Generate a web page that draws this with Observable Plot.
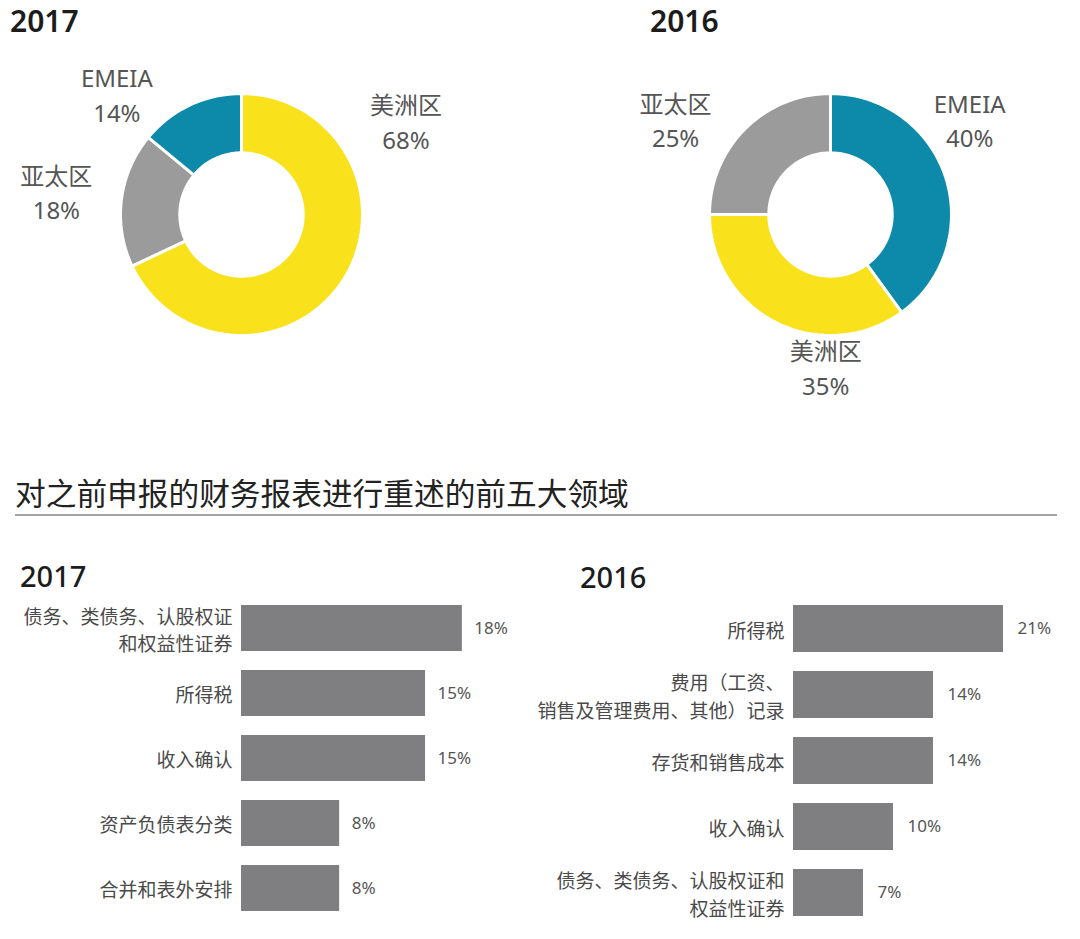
<!DOCTYPE html>
<html><head><meta charset="utf-8">
<script src="https://cdn.jsdelivr.net/npm/d3@7"></script>
<script src="https://cdn.jsdelivr.net/npm/@observablehq/plot@0.6"></script>
<style>
html,body{margin:0;padding:0;background:#fff;}
#page{position:relative;width:1080px;height:939px;overflow:hidden;font-family:"Noto Sans","Noto Sans CJK SC",sans-serif;}
.layer{position:absolute;left:0;top:0;pointer-events:none;}
.t{position:absolute;white-space:nowrap;color:#1c1c1c;line-height:1;}
</style></head><body>
<div id="page">
  <div class="t" style="left:10px;top:6px;font-size:30px;font-weight:600;">2017</div>
  <div class="t" style="left:650px;top:6px;font-size:30px;font-weight:600;">2016</div>
  <div class="t" style="left:15px;top:477px;font-size:30.7px;font-family:'Noto Sans CJK SC',sans-serif;color:#222;">对之前申报的财务报表进行重述的前五大领域</div>
  <div style="position:absolute;left:15px;top:514px;width:1042px;height:1.5px;background:#a3a3a3;"></div>
  <div class="t" style="left:20px;top:561px;font-size:29px;font-weight:500;">2017</div>
  <div class="t" style="left:580px;top:562px;font-size:29px;font-weight:500;">2016</div>
</div>
<script>
// ---- data ----
const donutRegions2017 = ["美洲区", "亚太区", "EMEIA"];
const donutShares2017 = [68, 18, 14];
const donutRegions2016 = ["EMEIA", "美洲区", "亚太区"];
const donutShares2016 = [40, 35, 25];

const barCats2017 = ["债务、类债务、认股权证\n和权益性证券", "所得税", "收入确认", "资产负债表分类", "合并和表外安排"];
const barVals2017 = [18, 15, 15, 8, 8];
const barCats2016 = ["所得税", "费用（工资、\n销售及管理费用、其他）记录", "存货和销售成本", "收入确认", "债务、类债务、认股权证和\n权益性证券"];
const barVals2016 = [21, 14, 14, 10, 7];

// ---- styles / layout ----
const regionColor = {"美洲区": "#f9e11b", "亚太区": "#9b9b9b", "EMEIA": "#0d8aa9"};
const fontStack = "'Noto Sans','Noto Sans CJK SC',sans-serif";
const labelAt2017 = {"美洲区": [1.36, 0.78], "亚太区": [-1.53, 0.195], "EMEIA": [-1.03, 1.0]};
const labelAt2016 = {"EMEIA": [1.15, 0.79], "美洲区": [-0.04, -1.255], "亚太区": [-1.28, 0.79]};

const page = document.getElementById("page");

function donut(names, shares, cx, cy, R, labelAt) {
  const rows = names.map((n, i) => ({name: n, share: shares[i]}));
  const arcs = d3.pie().sort(null).value(d => d.share)(rows);
  const inner = 0.51, N = 120;
  const pts = [];
  for (const a of arcs) {
    const steps = Math.max(2, Math.ceil(N * (a.endAngle - a.startAngle) / (2 * Math.PI)));
    for (let k = 0; k <= steps; k++) {
      const t = a.startAngle + (a.endAngle - a.startAngle) * k / steps;
      pts.push({name: a.data.name, x: Math.sin(t), y: Math.cos(t)});
    }
    for (let k = steps; k >= 0; k--) {
      const t = a.startAngle + (a.endAngle - a.startAngle) * k / steps;
      pts.push({name: a.data.name, x: inner * Math.sin(t), y: inner * Math.cos(t)});
    }
  }
  const labels = rows.map(r => ({text: `${r.name}\n${r.share}%`, x: labelAt[r.name][0], y: labelAt[r.name][1]}));
  const svg = Plot.plot({
    width: 1080, height: 939, margin: 0,
    style: {background: "transparent", fontFamily: fontStack},
    x: {domain: [-1, 1], range: [cx - R, cx + R], axis: null},
    y: {domain: [-1, 1], range: [cy + R, cy - R], axis: null},
    color: {domain: names, range: names.map(n => regionColor[n])},
    marks: [
      Plot.line(pts, {x: "x", y: "y", z: "name", fill: "name", stroke: "white", strokeWidth: 3, curve: "linear-closed", strokeLinejoin: "miter"}),
      Plot.text(labels, {x: "x", y: "y", text: "text", textAnchor: "middle", lineAnchor: "middle", lineHeight: 1.45, fontSize: 24, fill: "#555"})
    ]
  });
  svg.classList.add("layer");
  page.appendChild(svg);
}

function bars(cats, vals, x0, pxPer, firstTop, step, barH, valueGap) {
  const data = cats.map((c, i) => ({cat: c, value: vals[i]}));
  const max = d3.max(vals);
  const p = 1 - barH / step;
  const y0 = firstTop - step * p;
  const svg = Plot.plot({
    width: 1080, height: 939, margin: 0,
    style: {background: "transparent", fontFamily: fontStack},
    x: {domain: [0, max], range: [x0, x0 + max * pxPer], axis: null},
    y: {domain: cats, range: [y0, y0 + step * (cats.length + p)], padding: p, axis: null},
    marks: [
      Plot.barX(data, {x: "value", y: "cat", fill: "#7f7e80"}),
      Plot.text(data, {x: 0, y: "cat", text: "cat", textAnchor: "end", lineAnchor: "middle", dx: -9, lineHeight: 1.45, fontSize: 19, fill: "#4a4a4a"}),
      Plot.text(data, {x: "value", y: "cat", text: d => d.value + "%", textAnchor: "start", dx: valueGap, fontSize: 17, fill: "#555"})
    ]
  });
  svg.classList.add("layer");
  page.appendChild(svg);
}

donut(donutRegions2017, donutShares2017, 241, 214, 121, labelAt2017);
donut(donutRegions2016, donutShares2016, 830, 214, 121, labelAt2016);
bars(barCats2017, barVals2017, 241, 12.27, 603, 65.75, 47, 12);
bars(barCats2016, barVals2016, 793, 10, 603, 67, 48, 14);
</script>
</body></html>
